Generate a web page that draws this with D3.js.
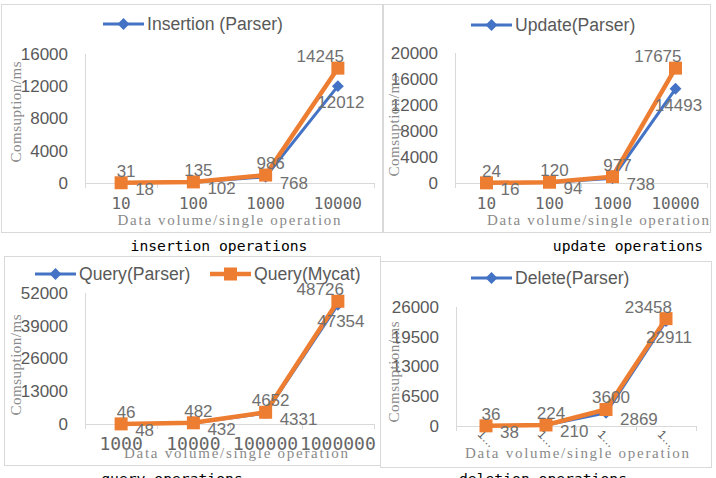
<!DOCTYPE html>
<html>
<head>
<meta charset="utf-8">
<script src="https://cdn.jsdelivr.net/npm/d3@7"></script>
<style>
  body { margin: 0; background: #fff; }
  svg { display: block; }
</style>
</head>
<body>
<div id="chart"></div>
<script>
// data
const insertCats = ["10", "100", "1000", "10000"];
const insertParser = [18, 102, 768, 12012];
const insertMycat = [31, 135, 986, 14245];
const insertTicks = [0, 4000, 8000, 12000, 16000];

const updateCats = ["10", "100", "1000", "10000"];
const updateParser = [16, 94, 738, 14493];
const updateMycat = [24, 120, 977, 17675];
const updateTicks = [0, 4000, 8000, 12000, 16000, 20000];

const queryCats = ["1000", "10000", "100000", "1000000"];
const queryParser = [48, 432, 4331, 47354];
const queryMycat = [46, 482, 4652, 48726];
const queryTicks = [0, 13000, 26000, 39000, 52000];

const deleteCats = ["1000", "10000", "100000", "1000000"];
const deleteParser = [38, 210, 2869, 22911];
const deleteMycat = [36, 224, 3600, 23458];
const deleteTicks = [0, 6500, 13000, 19500, 26000];

const blue = "#4472c4", orange = "#ed7d31";
const tickColor = "#595959", xTickColor = "#666666", labelColor = "#707070", titleColor = "#8a8a8a", gridColor = "#d9d9d9";
const sansFont = "'Liberation Sans', Arial, sans-serif";
const monoFont = "'DejaVu Sans Mono', monospace";
const serifFont = "'Liberation Serif', 'Times New Roman', serif";

const panels = [
  { cats: insertCats, parser: insertParser, mycat: insertMycat, ticks: insertTicks, tickSize: 16,
    box: [1, 4, 382, 232], left: 85, right: 374, top: 54, bottom: 183,
    yTitle: [16, 112], xTitle: [229, 220, 223], caption: ["insertion operations", 219, 251],
    legend: [{ name: "Insertion (Parser)", color: blue, shape: "diamond", x: 103, y: 24 }] },
  { cats: updateCats, parser: updateParser, mycat: updateMycat, ticks: updateTicks, tickSize: 16,
    box: [383, 4, 710, 232], left: 455, right: 707, top: 53, bottom: 183,
    yTitle: [394, 126], xTitle: [598, 220, 222], caption: ["update operations", 628, 251],
    legend: [{ name: "Update(Parser)", color: blue, shape: "diamond", x: 471, y: 25 }] },
  { cats: queryCats, parser: queryParser, mycat: queryMycat, ticks: queryTicks, tickSize: 18,
    box: [4, 256, 380, 465], left: 85, right: 374, top: 293, bottom: 424,
    yTitle: [16, 365], xTitle: [236, 453, 224], caption: ["query operations", 172, 484],
    legend: [{ name: "Query(Parser)", color: blue, shape: "diamond", x: 35, y: 274 },
             { name: "Query(Mycat)", color: orange, shape: "square", x: 210, y: 274 }] },
  { cats: deleteCats, parser: deleteParser, mycat: deleteMycat, ticks: deleteTicks, cut: true,
    box: [380, 261, 711, 467], left: 456, right: 696, top: 307, bottom: 426,
    yTitle: [394, 372], xTitle: [577, 453, 224], caption: ["deletion operations", 543, 484],
    legend: [{ name: "Delete(Parser)", color: blue, shape: "diamond", x: 471, y: 278 }] }
];

const svg = d3.select("#chart").append("svg")
  .attr("width", 716)
  .attr("height", 478);

function marker(g, shape, color, x, y) {
  if (shape === "square") {
    g.append("rect")
      .attr("x", x - 6.5).attr("y", y - 6.5)
      .attr("width", 13).attr("height", 13)
      .attr("fill", color);
  } else {
    g.append("path")
      .attr("d", d3.symbol(d3.symbolDiamond2, 90)())
      .attr("transform", `translate(${x},${y})`)
      .attr("fill", color);
  }
}

panels.forEach(p => {
  const g = svg.append("g");
  const [bx0, by0, bx1, by1] = p.box;

  g.append("rect")
    .attr("x", bx0 + 0.5).attr("y", by0 + 0.5)
    .attr("width", bx1 - bx0).attr("height", by1 - by0)
    .attr("fill", "none")
    .attr("stroke", gridColor);

  const x = d3.scaleBand().domain(p.cats).range([p.left, p.right]);
  const y = d3.scaleLinear().domain([0, d3.max(p.ticks)]).range([p.bottom, p.top]);
  const cx = c => x(c) + x.bandwidth() / 2;

  // axis lines
  g.append("line")
    .attr("x1", p.left + 0.5).attr("x2", p.left + 0.5)
    .attr("y1", p.top).attr("y2", p.bottom)
    .attr("stroke", gridColor);
  g.append("line")
    .attr("x1", p.left).attr("x2", p.right)
    .attr("y1", p.bottom + 0.5).attr("y2", p.bottom + 0.5)
    .attr("stroke", gridColor);
  d3.range(p.cats.length + 1).forEach(i => {
    const tx = Math.round(p.left + i * x.step()) + 0.5;
    g.append("line")
      .attr("x1", tx).attr("x2", tx)
      .attr("y1", p.bottom).attr("y2", p.bottom + 5)
      .attr("stroke", gridColor);
  });

  // y ticks
  const yAxis = g.append("g")
    .attr("transform", `translate(${p.left},0)`)
    .call(d3.axisLeft(y).tickValues(p.ticks).tickSize(0).tickPadding(17).tickFormat(d3.format("d")));
  yAxis.select(".domain").remove();
  yAxis.selectAll("text")
    .attr("fill", tickColor)
    .attr("font-family", sansFont)
    .attr("font-size", 17);

  // x ticks
  if (p.cut) {
    p.cats.forEach(c => {
      g.append("text")
        .attr("transform", `translate(${cx(c) - 9},${p.bottom + 9}) rotate(45)`)
        .attr("fill", tickColor)
        .attr("font-family", sansFont)
        .attr("font-size", 12)
        .text(c[0] + "…");
    });
  } else {
    p.cats.forEach(c => {
      g.append("text")
        .attr("x", cx(c)).attr("y", p.bottom + 26)
        .attr("text-anchor", "middle")
        .attr("fill", xTickColor)
        .attr("font-family", monoFont)
        .attr("font-size", p.tickSize)
        .text(c);
    });
  }

  // axis titles
  g.append("text")
    .attr("x", p.xTitle[0]).attr("y", p.xTitle[1] + 5)
    .attr("text-anchor", "middle")
    .attr("fill", titleColor)
    .attr("font-family", serifFont)
    .attr("font-size", 15)
    .attr("textLength", p.xTitle[2])
    .attr("lengthAdjust", "spacing")
    .text("Data volume/single operation");
  g.append("text")
    .attr("transform", `translate(${p.yTitle[0] + 5},${p.yTitle[1]}) rotate(-90)`)
    .attr("text-anchor", "middle")
    .attr("fill", titleColor)
    .attr("font-family", serifFont)
    .attr("font-size", 15)
    .attr("textLength", 101)
    .attr("lengthAdjust", "spacing")
    .text("Comsuption/ms");

  // lines
  const line = d3.line().x((d, i) => cx(p.cats[i])).y(d => y(d));
  g.append("path").datum(p.parser)
    .attr("d", line).attr("fill", "none")
    .attr("stroke", blue).attr("stroke-width", 3);
  p.parser.forEach((v, i) => marker(g, "diamond", blue, cx(p.cats[i]), y(v)));
  g.append("path").datum(p.mycat)
    .attr("d", line).attr("fill", "none")
    .attr("stroke", orange).attr("stroke-width", 4.5);
  p.mycat.forEach((v, i) => marker(g, "square", orange, cx(p.cats[i]), y(v)));

  // data labels
  const last = p.cats.length - 1;
  p.mycat.forEach((v, i) => {
    g.append("text")
      .attr("x", cx(p.cats[i]) + (i === last ? 6 : 5))
      .attr("y", y(v) - 12)
      .attr("dy", "0.35em")
      .attr("text-anchor", i === last ? "end" : "middle")
      .attr("fill", labelColor)
      .attr("font-family", sansFont)
      .attr("font-size", 17)
      .text(v);
  });
  p.parser.forEach((v, i) => {
    g.append("text")
      .attr("x", cx(p.cats[i]) + (i === last ? 3 : 14))
      .attr("y", y(v) + (i === last ? 16 : 6))
      .attr("dy", "0.35em")
      .attr("text-anchor", i === last ? "middle" : "start")
      .attr("fill", labelColor)
      .attr("font-family", sansFont)
      .attr("font-size", 17)
      .text(v);
  });

  // legend
  p.legend.forEach(l => {
    g.append("line")
      .attr("x1", l.x).attr("x2", l.x + 41)
      .attr("y1", l.y).attr("y2", l.y)
      .attr("stroke", l.color)
      .attr("stroke-width", l.shape === "square" ? 4.5 : 3);
    marker(g, l.shape, l.color, l.x + 20.5, l.y);
    g.append("text")
      .attr("x", l.x + 44).attr("y", l.y)
      .attr("dy", "0.35em")
      .attr("fill", tickColor)
      .attr("font-family", sansFont)
      .attr("font-size", 17.6)
      .text(l.name);
  });

  // caption under the panel
  svg.append("text")
    .attr("x", p.caption[1]).attr("y", p.caption[2])
    .attr("text-anchor", "middle")
    .attr("fill", "#000")
    .attr("font-family", monoFont)
    .attr("font-size", 14.7)
    .text(p.caption[0]);
});
</script>
</body>
</html>
